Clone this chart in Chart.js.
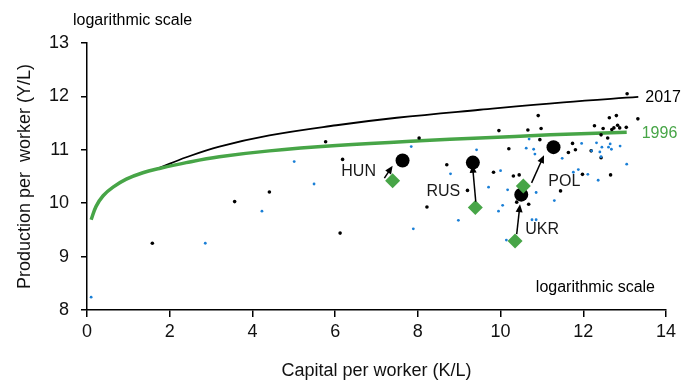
<!DOCTYPE html>
<html>
<head>
<meta charset="utf-8">
<title>Production vs capital per worker</title>
<script src="https://cdn.jsdelivr.net/npm/chart.js@4.4.1/dist/chart.umd.min.js"></script>
<style>
  html, body { margin:0; padding:0; background:#fff; }
  #wrap { width:693px; height:382px; position:relative; }
</style>
</head>
<body>
<div id="wrap"><canvas id="chart"></canvas></div>
<script>
'use strict';

// ===== Data (log units) =====
const CURVE_2017_X = [1.75, 2.4, 3.2, 4.41, 6.03, 7.49, 9.5, 11.52, 13.33];
const CURVE_2017_Y = [10.66, 10.86, 11.06, 11.27, 11.46, 11.60, 11.75, 11.89, 11.99];

const CURVE_1996_X = [0.1, 0.22, 0.39, 0.63, 0.95, 1.35, 1.75, 2.4, 3.2, 4.41, 6.03, 8.05, 9.5, 11.2, 13.05];
const CURVE_1996_Y = [9.69, 9.94, 10.14, 10.30, 10.45, 10.57, 10.65, 10.76, 10.87, 10.98, 11.08, 11.17, 11.22, 11.28, 11.33];

// other countries, 2017 (black) and 1996 (blue)
const DOTS_2017_X = [1.58, 3.57, 4.41, 6.12, 5.77, 6.18, 8.03, 8.22, 10.91, 9.96, 10.66, 10.98, 10.95, 10.20,
  8.70, 9.83, 10.31, 10.45, 9.20, 10.39, 10.68, 11.45, 11.98, 12.66, 11.74, 11.64, 11.81, 12.19, 12.43,
  13.06, 12.63, 12.80, 13.32, 12.27, 12.48, 12.69, 12.74, 12.83, 12.88, 13.04, 12.43, 12.59];
const DOTS_2017_Y = [9.25, 10.03, 10.21, 9.44, 11.15, 10.82, 11.22, 9.93, 11.64, 11.36, 11.37, 11.40, 11.19, 11.02,
  10.72, 10.58, 10.51, 10.53, 10.24, 10.02, 9.98, 10.23, 10.54, 10.53, 11.12, 10.95, 11.00, 10.98, 10.85,
  12.05, 11.60, 11.64, 11.58, 11.45, 11.40, 11.38, 11.41, 11.46, 11.41, 11.42, 11.28, 11.22];

const DOTS_1996_X = [0.10, 2.86, 4.23, 5.49, 5.01, 7.84, 7.89, 10.69, 10.80, 10.83, 10.62, 9.42, 8.79, 10.00,
  9.71, 10.17, 10.05, 9.95, 8.98, 10.86, 10.14, 10.76, 10.86, 11.30, 11.49, 11.96, 11.76, 11.88, 12.11,
  12.36, 13.05, 12.32, 12.45, 12.61, 12.65, 12.68, 12.89, 12.20, 12.40, 12.43];
const DOTS_1996_Y = [8.24, 9.25, 9.85, 10.36, 10.78, 11.06, 9.52, 11.20, 11.01, 10.92, 11.03, 11.00, 10.55, 10.61,
  10.30, 10.25, 9.96, 9.85, 9.68, 10.20, 9.31, 9.69, 9.69, 10.05, 10.84, 11.12, 10.58, 10.63, 10.54,
  10.43, 10.73, 11.13, 11.05, 11.05, 11.11, 11.01, 11.07, 10.98, 10.96, 10.87];

// highlighted countries
const COUNTRIES = ['HUN', 'RUS', 'UKR', 'POL'];
const COUNTRY_2017_X = [7.63, 9.33, 10.50, 11.28];
const COUNTRY_2017_Y = [10.80, 10.76, 10.16, 11.05];
const COUNTRY_1996_X = [7.39, 9.39, 10.35, 10.55];
const COUNTRY_1996_Y = [10.42, 9.92, 9.29, 10.32];

// arrows 1996 -> 2017
const ARROW_FROM_X = [7.19, 9.40, 10.39, 10.75];
const ARROW_FROM_Y = [10.47, 10.03, 9.42, 10.38];
const ARROW_TO_X = [7.39, 9.32, 10.47, 11.05];
const ARROW_TO_Y = [10.70, 10.72, 9.98, 10.90];

// ===== Styles =====
const FONT = "'Liberation Sans', Arial, sans-serif";
const GREEN = '#47a547';
const BLUE = '#1a7fd6';

// label offsets from the 1996 diamond, px
const LABEL_OFFSETS = { HUN: [-34, -9], RUS: [-32, -16], UKR: [27, -12], POL: [41, -5] };

function zipXY(xs, ys){
  return xs.map((x, i) => ({ x, y: ys[i] }));
}

// ===== annotations plugin =====
const annotations = {
  id: 'annotations',
  afterDatasetsDraw(chart){
    const { ctx, chartArea: a, scales: { x, y } } = chart;
    ctx.save();

    // arrows
    ctx.strokeStyle = '#000';
    ctx.fillStyle = '#000';
    ctx.lineWidth = 1.5;
    for(let i = 0; i < ARROW_FROM_X.length; i++){
      drawArrow(ctx,
        x.getPixelForValue(ARROW_FROM_X[i]), y.getPixelForValue(ARROW_FROM_Y[i]),
        x.getPixelForValue(ARROW_TO_X[i]), y.getPixelForValue(ARROW_TO_Y[i]));
    }

    // country labels
    ctx.font = `16px ${FONT}`;
    ctx.textAlign = 'center';
    ctx.textBaseline = 'middle';
    ctx.fillStyle = '#1a1a1a';
    COUNTRIES.forEach((c, i) => {
      const off = LABEL_OFFSETS[c];
      ctx.fillText(c, x.getPixelForValue(COUNTRY_1996_X[i]) + off[0], y.getPixelForValue(COUNTRY_1996_Y[i]) + off[1]);
    });

    // curve end labels
    ctx.textAlign = 'left';
    const n17 = CURVE_2017_X.length - 1, n96 = CURVE_1996_X.length - 1;
    ctx.fillStyle = '#000';
    ctx.fillText('2017', x.getPixelForValue(CURVE_2017_X[n17]) + 7, y.getPixelForValue(CURVE_2017_Y[n17]) + 1);
    ctx.fillStyle = GREEN;
    ctx.fillText('1996', x.getPixelForValue(CURVE_1996_X[n96]) + 15, y.getPixelForValue(CURVE_1996_Y[n96]) + 1);

    // scale notes
    ctx.fillStyle = '#000';
    ctx.fillText('logarithmic scale', a.left - 14, a.top - 22);
    ctx.textAlign = 'right';
    ctx.fillText('logarithmic scale', a.right - 11, a.bottom - 22);

    ctx.restore();
  }
};

function drawArrow(ctx, x1, y1, x2, y2){
  const ang = Math.atan2(y2 - y1, x2 - x1);
  const cos = Math.cos(ang), sin = Math.sin(ang);
  const head = 8, hw = 3.5;
  ctx.beginPath();
  ctx.moveTo(x1, y1);
  ctx.lineTo(x2 - cos * head * 0.8, y2 - sin * head * 0.8);
  ctx.stroke();
  ctx.beginPath();
  ctx.moveTo(x2, y2);
  ctx.lineTo(x2 - head * cos + hw * sin, y2 - head * sin - hw * cos);
  ctx.lineTo(x2 - head * cos - hw * sin, y2 - head * sin + hw * cos);
  ctx.closePath();
  ctx.fill();
}

// ===== chart =====
const tickFont = { family: FONT, size: 18 };

new Chart(document.getElementById('chart'), {
  type: 'scatter',
  data: {
    datasets: [
      { label: '2017 frontier', data: zipXY(CURVE_2017_X, CURVE_2017_Y), showLine: true,
        borderColor: '#000', borderWidth: 1.8, pointRadius: 0, tension: 0.4, order: 3 },
      { label: '1996 frontier', data: zipXY(CURVE_1996_X, CURVE_1996_Y), showLine: true,
        borderColor: GREEN, borderWidth: 3.5, pointRadius: 0, tension: 0.4, order: 2 },
      { label: '1996', data: zipXY(DOTS_1996_X, DOTS_1996_Y),
        pointRadius: 1.4, backgroundColor: BLUE, borderWidth: 0, order: 1 },
      { label: '2017', data: zipXY(DOTS_2017_X, DOTS_2017_Y),
        pointRadius: 1.8, backgroundColor: '#000', borderWidth: 0, order: 1 },
      { label: 'countries 1996', data: zipXY(COUNTRY_1996_X, COUNTRY_1996_Y),
        pointStyle: 'rectRot', pointRadius: 7.5, backgroundColor: GREEN, borderWidth: 0, order: 0 },
      { label: 'countries 2017', data: zipXY(COUNTRY_2017_X, COUNTRY_2017_Y),
        pointRadius: 7, backgroundColor: '#000', borderWidth: 0, order: 0 }
    ]
  },
  options: {
    responsive: true,
    maintainAspectRatio: false,
    animation: false,
    events: [],
    layout: { padding: { left: 0, top: 43, right: 27, bottom: 0 } },
    plugins: { legend: { display: false }, tooltip: { enabled: false } },
    scales: {
      x: {
        type: 'linear', min: 0, max: 14,
        afterFit(s){ s.height = 72; },
        ticks: { stepSize: 2, color: '#111', font: tickFont, padding: 4, maxRotation: 0 },
        grid: { display: true, drawOnChartArea: false, drawTicks: true, tickLength: 7, color: '#000', lineWidth: 1.5 },
        border: { display: true, color: '#000', width: 1.5 },
        title: { display: true, text: 'Capital per worker (K/L)', color: '#111', font: tickFont, padding: { top: 0, bottom: 0 } }
      },
      y: {
        type: 'linear', min: 8, max: 13,
        afterFit(s){ s.width = 87; },
        ticks: { stepSize: 1, color: '#111', font: tickFont, padding: 12 },
        grid: { display: true, drawOnChartArea: false, drawTicks: true, tickLength: 6, color: '#000', lineWidth: 1.5 },
        border: { display: true, color: '#000', width: 1.5 },
        title: { display: true, text: 'Production per  worker (Y/L)', color: '#111', font: tickFont, padding: { top: 14, bottom: 0 } }
      }
    }
  },
  plugins: [annotations]
});
</script>
</body>
</html>
